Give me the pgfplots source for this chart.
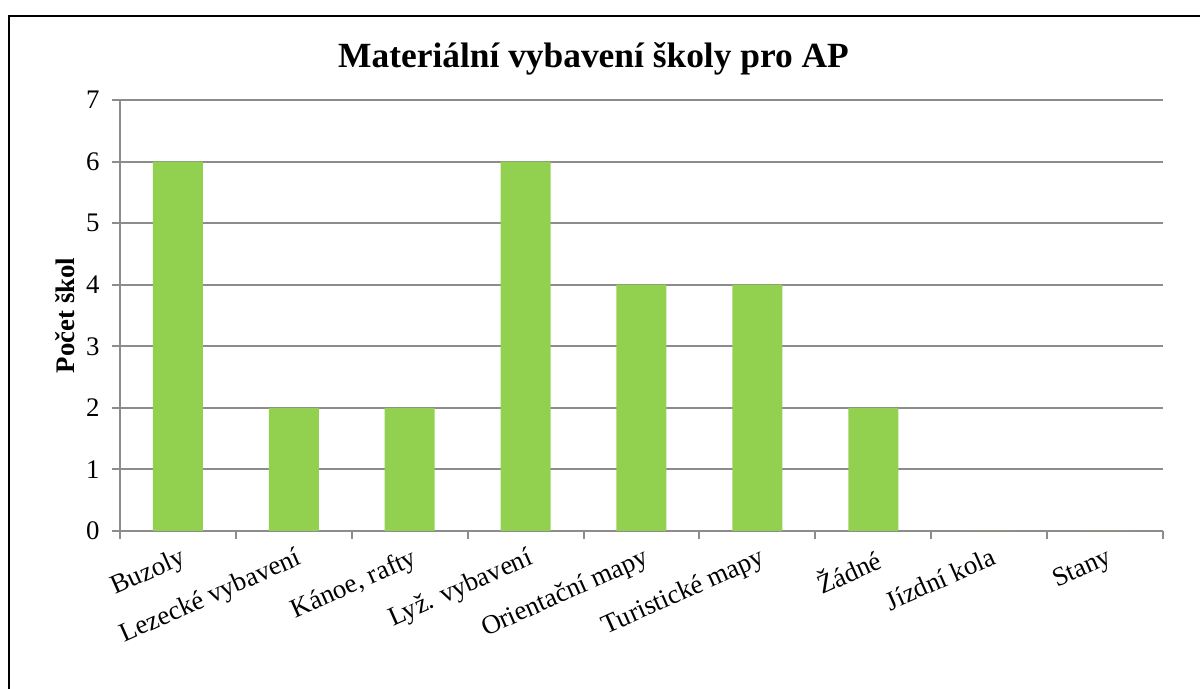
\documentclass[border=0pt]{standalone}
\usepackage{pgfplots}
\pgfplotsset{compat=1.18}
\usepackage{fontspec}
\setmainfont{Liberation Serif}
\definecolor{barc}{HTML}{92D050}
\definecolor{gridc}{HTML}{8C8C8C}
\begin{document}
\begin{tikzpicture}[x=1pt,y=1pt]
\useasboundingbox (0,0) rectangle (600,344.5);
\draw[line width=1.2pt] (4.5,-20) rectangle (620,336.5);
\begin{axis}[
  at={(60pt,79pt)}, anchor=south west,
  scale only axis, width=521.5pt, height=215.5pt,
  xmin=-0.5, xmax=8.5, ymin=0, ymax=7,
  ytick={0,1,2,3,4,5,6,7},
  xtick={-0.5,0.5,1.5,2.5,3.5,4.5,5.5,6.5,7.5,8.5},
  xticklabels={},
  axis x line*=bottom, axis y line*=left,
  axis line style={gridc, line width=1pt},
  every tick/.style={gridc, line width=1pt},
  major tick length=4pt,
  tick align=outside,
  ymajorgrids, major grid style={gridc, line width=1pt},
  /pgf/number format/assume math mode=true,
  tick label style={font=\fontsize{13.4}{16}\selectfont, black},
  yticklabel style={anchor=east, inner sep=0pt, xshift=-6pt},
  ylabel={\textbf{Počet škol}},
  ylabel style={at={(axis description cs:0,0.5)}, anchor=center, yshift=27.5pt, font=\fontsize{13.4}{16}\selectfont},
  title={\textbf{Materiální vybavení školy pro AP}},
  title style={at={(axis description cs:0.454,1)}, anchor=base, yshift=10.5pt, font=\fontsize{17.7}{22}\selectfont},
  clip=false,
]
\addplot[ybar, fill=barc, draw=none, bar width=25pt] coordinates {(0,6) (1,2) (2,2) (3,6) (4,4) (5,4) (6,2) (7,0) (8,0)};
\addplot[draw=none, mark=none, nodes near coords, point meta=explicit symbolic,
  nodes near coords style={xshift=0.5pt, yshift=-7.5pt, rotate=24, anchor=north east, inner sep=0pt, font=\fontsize{13.4}{16}\selectfont, black}]
  table[col sep=semicolon, x=x, y=y, meta=label] {
x;y;label
0;0;Buzoly
1;0;Lezecké vybavení
2;0;Kánoe, rafty
3;0;Lyž. vybavení
4;0;Orientační mapy
5;0;Turistické mapy
6;0;Žádné
7;0;Jízdní kola
8;0;Stany
};
\end{axis}
\end{tikzpicture}
\end{document}
